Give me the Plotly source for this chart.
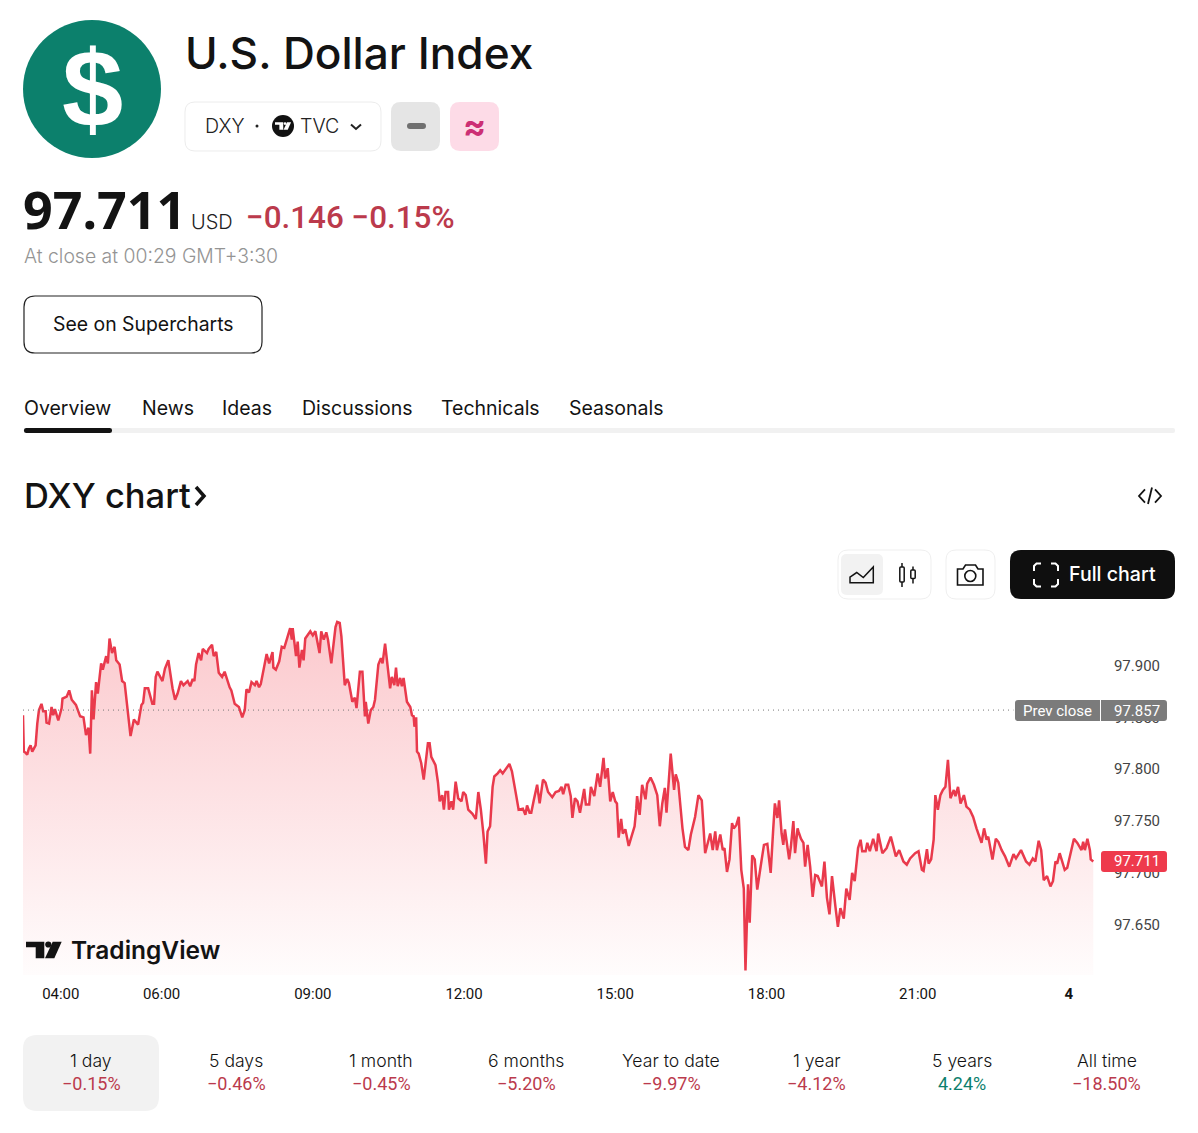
import pandas as pd
import plotly.graph_objects as go

W, H = 1198, 1133

# minutes after 03:15
minutes = [0,1,3,5,7,9,11,15,17,19,22,24,27,28,31,34,36,38,42,46,47,52,55,58,63,68,72,75,78,80,82,84,87,89,93,95,99,101,103,106,109,111,115,118,121,125,128,132,137,141,143,145,149,154,156,158,160,166,169,173,178,181,184,188,191,196,199,202,204,206,209,212,214,219,221,225,227,230,233,237,240,246,248,252,257,261,264,266,269,272,276,278,281,283,286,287,290,293,297,298,301,305,308,311,316,318,320,321,325,327,329,332,334,336,342,345,348,353,355,358,361,363,367,372,374,377,379,383,386,388,392,395,397,401,404,407,408,411,414,417,419,423,426,428,431,434,437,439,442,444,446,449,451,453,457,461,463,465,466,468,469,471,474,477,480,482,
    484,486,491,494,496,499,501,503,506,507,510,512,515,518,522,524,527,530,535,539,542,545,548,551,553,556,559,561,565,568,571,575,579,582,585,587,590,595,598,600,603,605,608,612,615,619,622,625,630,634,638,641,643,646,649,652,654,657,660,663,668,670,674,676,680,684,687,691,693,696,699,702,705,707,709,712,714,717,721,725,728,730,731,734,737,741,743,747,751,755,758,761,764,766,768,771,775,777,780,783,785,788,792,795,800,804,808,812,816,818,821,824,826,830,833,835,838,841,844,846,849,852,855,858,860,863,865,868,871,874,878,882,886,890,893,895,898,900,903,905,907,912,914,917,919,922,
    923,926,929,931,934,937,940,943,946,951,954,957,960,963,967,970,973,977,980,984,987,990,994,997,999,1003,1005,1008,1012,1016,1018,1023,1028,1033,1039,1043,1048,1052,1056,1062,1066,1070,1072,1076,1078,1081,1084,1086,1089,1092,1095,1098,1101,1104,1108,1110,1113,1116,1120,1123,1127,1131,1135,1141,1144,1147,1149,1154,1158,1161,1165,1169,1174,1179,1182,1188,1194,1198,1202,1205,1209,1212,1215,1219,1223,1226,1229,1231,1234,1240,1243,1248,1251,1255,1260,1262,1264,1267,1270,1271,1274]
prices = [97.852,97.817,97.816,97.814,97.820,97.823,97.817,97.823,97.844,97.857,97.863,97.856,97.856,97.845,97.844,97.860,97.852,97.858,97.847,97.859,97.868,97.870,97.876,97.867,97.862,97.851,97.850,97.833,97.840,97.815,97.876,97.848,97.884,97.873,97.902,97.896,97.909,97.902,97.926,97.912,97.918,97.905,97.901,97.885,97.883,97.854,97.832,97.848,97.843,97.862,97.864,97.878,97.878,97.863,97.863,97.889,97.894,97.885,97.897,97.905,97.878,97.867,97.873,97.885,97.881,97.885,97.880,97.887,97.885,97.901,97.912,97.905,97.916,97.912,97.916,97.920,97.909,97.913,97.893,97.889,97.894,97.879,97.876,97.863,97.860,97.850,97.857,97.877,97.874,97.884,97.881,97.885,97.879,97.882,97.894,97.897,97.911,97.902,97.913,97.898,97.896,97.904,97.918,97.917,97.931,97.936,97.925,97.936,97.909,97.923,97.898,97.915,97.905,97.926,97.933,97.929,97.933,97.912,97.933,97.925,97.932,97.925,97.902,97.937,97.942,97.941,97.928,97.881,97.887,97.883,97.865,97.869,97.859,97.894,97.894,97.851,97.865,97.844,97.857,97.860,97.867,97.901,97.907,97.902,97.921,97.901,97.878,97.889,97.881,97.898,97.880,97.888,97.880,97.888,97.865,97.860,97.852,97.851,97.841,97.850,97.817,97.815,97.806,97.790,97.815,97.825,
    97.825,97.812,97.804,97.787,97.769,97.775,97.761,97.778,97.778,97.761,97.769,97.761,97.788,97.772,97.769,97.778,97.775,97.761,97.757,97.752,97.778,97.761,97.738,97.709,97.740,97.745,97.783,97.793,97.796,97.799,97.796,97.801,97.805,97.798,97.786,97.775,97.761,97.762,97.756,97.765,97.758,97.758,97.770,97.785,97.767,97.790,97.787,97.778,97.773,97.778,97.779,97.783,97.776,97.785,97.785,97.774,97.753,97.772,97.769,97.758,97.781,97.766,97.766,97.783,97.774,97.796,97.783,97.811,97.791,97.801,97.769,97.778,97.769,97.767,97.734,97.752,97.738,97.742,97.726,97.737,97.745,97.762,97.774,97.756,97.785,97.771,97.786,97.792,97.785,97.775,97.745,97.767,97.782,97.758,97.785,97.815,97.780,97.795,97.787,97.761,97.743,97.725,97.722,97.737,97.754,97.775,97.770,97.719,97.732,97.738,97.722,97.740,97.722,97.737,97.722,97.724,97.701,97.713,97.748,97.743,97.746,97.754,97.703,97.685,97.606,97.689,97.652,97.717,97.713,97.684,97.706,97.727,97.728,97.700,97.742,97.767,97.753,97.770,97.738,97.727,97.742,97.713,97.725,97.750,97.719,97.743,
    97.740,97.733,97.729,97.706,97.727,97.706,97.677,97.698,97.697,97.687,97.711,97.676,97.660,97.697,97.668,97.648,97.666,97.656,97.685,97.674,97.700,97.692,97.724,97.732,97.721,97.721,97.729,97.721,97.733,97.721,97.738,97.719,97.724,97.735,97.716,97.722,97.711,97.708,97.714,97.719,97.721,97.703,97.702,97.723,97.709,97.713,97.732,97.775,97.761,97.775,97.780,97.783,97.809,97.772,97.780,97.774,97.783,97.767,97.775,97.764,97.761,97.754,97.743,97.729,97.743,97.732,97.735,97.713,97.733,97.730,97.722,97.716,97.706,97.718,97.714,97.722,97.711,97.708,97.714,97.711,97.731,97.722,97.693,97.697,97.687,97.692,97.711,97.709,97.719,97.703,97.705,97.724,97.733,97.729,97.722,97.730,97.722,97.733,97.722,97.713,97.711]

price_ticks = [97.65, 97.70, 97.75, 97.80, 97.85, 97.90]
time_ticks = ["2025-07-03 04:00", "2025-07-03 06:00", "2025-07-03 09:00", "2025-07-03 12:00",
              "2025-07-03 15:00", "2025-07-03 18:00", "2025-07-03 21:00", "2025-07-04 00:00"]
time_labels = ["04:00", "06:00", "09:00", "12:00", "15:00", "18:00", "21:00", "<b>4</b>"]

prev_close = 97.857
last_price = 97.711

tab_names = ["Overview", "News", "Ideas", "Discussions", "Technicals", "Seasonals"]
tab_left = [23, 141, 221, 301, 440, 568]

range_names = ["1 day", "5 days", "1 month", "6 months", "Year to date", "1 year", "5 years", "All time"]
range_changes = ["−0.15%", "−0.46%", "−0.45%", "−5.20%", "−9.97%", "−4.12%", "4.24%", "−18.50%"]

RED = "#bb3a4c"
GREEN = "#0d7f6d"
LINE = "#e93a4c"
FONT = "Inter"

shapes = []
notes = []


def px(x):
    return x / W


def py(y):
    return 1 - y / H


def text(x, y, s, size, color="#131313", anchor="left", weight=400, family=FONT):
    notes.append(dict(x=px(x), y=py(y), xref="paper", yref="paper", text=s, showarrow=False,
                      xanchor=anchor, yanchor="middle", borderpad=0,
                      font=dict(family=family, size=size, color=color, weight=weight)))


def path(points, fill=None, line=None, width=0, closed=True):
    d = "M" + " L".join(f"{px(a):.5f},{py(b):.5f}" for a, b in points) + (" Z" if closed else "")
    shapes.append(dict(type="path", path=d, xref="paper", yref="paper", fillcolor=fill,
                       line=dict(color=line or "rgba(0,0,0,0)", width=width)))


def rrect(x0, y0, x1, y1, r, fill=None, line=None, width=0):
    q = lambda a, b, c, d: f"Q{px(a):.5f},{py(b):.5f} {px(c):.5f},{py(d):.5f}"
    d = (f"M{px(x0 + r):.5f},{py(y0):.5f} L{px(x1 - r):.5f},{py(y0):.5f} " + q(x1, y0, x1, y0 + r)
         + f" L{px(x1):.5f},{py(y1 - r):.5f} " + q(x1, y1, x1 - r, y1)
         + f" L{px(x0 + r):.5f},{py(y1):.5f} " + q(x0, y1, x0, y1 - r)
         + f" L{px(x0):.5f},{py(y0 + r):.5f} " + q(x0, y0, x0 + r, y0) + " Z")
    shapes.append(dict(type="path", path=d, xref="paper", yref="paper", fillcolor=fill,
                       line=dict(color=line or "rgba(0,0,0,0)", width=width)))


def circle(cx, cy, r, fill=None, line=None, width=0):
    shapes.append(dict(type="circle", xref="paper", yref="paper", x0=px(cx - r), x1=px(cx + r),
                       y0=py(cy + r), y1=py(cy - r), fillcolor=fill,
                       line=dict(color=line or "rgba(0,0,0,0)", width=width)))


def tv_logo(x, y, k, color):
    path([(x, y), (x + 18.3 * k, y), (x + 18.3 * k, y + 16.6 * k), (x + 9.7 * k, y + 16.6 * k),
          (x + 9.7 * k, y + 5.6 * k), (x, y + 5.6 * k)], fill=color)
    circle(x + 22.3 * k, y + 2.8 * k, 3.1 * k, fill=color)
    path([(x + 26.7 * k, y), (x + 35.7 * k, y), (x + 28.3 * k, y + 16.6 * k), (x + 19 * k, y + 16.6 * k)], fill=color)


# header
circle(92, 89, 69, fill="#0c806c")
text(92, 89, "<b>$</b>", 110, "#ffffff", "center", family="Liberation Sans")
text(184, 53, "U.S. Dollar Index", 44.2, weight=500)

rrect(185, 102, 381, 151, 10, line="#ececec", width=1)
text(204, 126, "DXY", 19.6, "#222222", weight=300)
circle(257, 126, 1.5, fill="#222222")
circle(283, 126, 11, fill="#111111")
tv_logo(275, 122.3, 0.45, "#ffffff")
text(299, 126, "TVC", 19.6, "#222222", weight=300)
path([(351, 124.5), (356, 129), (361, 124.5)], line="#222222", width=2, closed=False)
rrect(391, 102, 440, 151, 10, fill="#e5e5e5")
rrect(407, 123, 426, 129, 3, fill="#707070")
rrect(450, 102, 499, 151, 10, fill="#fddbe7")
text(474.5, 125, "<b>≈</b>", 34, "#cc2f74", "center")

text(22, 208, "97.711", 52, "#131313", weight=700, family="Noto Sans")
text(190, 222, "USD", 20, "#222222", weight=300)
text(245, 218, "−0.146 −0.15%", 31.4, RED, weight=500, family="Roboto")
text(23, 256, "At close at 00:29 GMT+3:30", 19.4, "#949494", weight=300)

rrect(24, 296, 262, 353, 11, line="#222222", width=1.2)
text(143, 324, "See on Supercharts", 19.4, "#131313", "center", weight=400)

# tabs
for name, left in zip(tab_names, tab_left):
    text(left, 408, name, 19.5, "#131313", weight=400)
rrect(24, 428, 1175, 433, 2, fill="#f1f1f1")
rrect(24, 428, 112, 433, 2.5, fill="#131313")

text(23, 495, "DXY chart", 34.5, "#131313", weight=500)
path([(196, 487), (204, 496), (196, 505)], line="#131313", width=3.5, closed=False)

# embed and toolbar icons
path([(1145, 489.3), (1139, 496), (1145, 502.7)], line="#131313", width=1.8, closed=False)
path([(1148, 504), (1152, 487.5)], line="#131313", width=1.8, closed=False)
path([(1155, 489.3), (1161, 496), (1155, 502.7)], line="#131313", width=1.8, closed=False)

rrect(838, 550, 931, 599, 10, line="#efefef", width=1)
rrect(841, 554, 883, 595, 6, fill="#f2f2f2")
path([(850, 577), (856.7, 572.5), (863.3, 577.5), (873.3, 567), (873.3, 582.7), (850, 582.7)], line="#131313", width=1.5)
path([(902, 563), (902, 587)], line="#131313", width=1.5, closed=False)
rrect(899.8, 567, 904.2, 582, 1, fill="#ffffff", line="#131313", width=1.5)
path([(913, 566.5), (913, 583.5)], line="#131313", width=1.5, closed=False)
rrect(910.8, 570, 915.2, 578.5, 1, fill="#ffffff", line="#131313", width=1.5)

rrect(946, 550, 995, 599, 10, line="#efefef", width=1)
path([(957.5, 569), (963, 569), (965.5, 565), (975.5, 565), (978, 569), (983, 569), (983, 585), (957.5, 585)],
     line="#131313", width=1.6)
circle(970.3, 576, 5.5, line="#131313", width=1.6)

rrect(1010, 550, 1175, 599, 11, fill="#0f0f0f")
for corner in [[(1034, 571), (1034, 566), (1036.5, 563.5), (1041, 563.5)],
               [(1051, 563.5), (1055.5, 563.5), (1058, 566), (1058, 571)],
               [(1034, 579), (1034, 584), (1036.5, 586.5), (1041, 586.5)],
               [(1051, 586.5), (1055.5, 586.5), (1058, 584), (1058, 579)]]:
    path(corner, line="#ffffff", width=2, closed=False)
text(1068, 574, "Full chart", 19.6, "#ffffff", weight=500)

# price labels over the chart
rrect(1015, 700, 1167, 721, 3, fill="#7b7b7b")
path([(1100.5, 700), (1100.5, 721)], line="#ffffff", width=1, closed=False)
text(1057.5, 711, "Prev close", 15, "#ffffff", "center", family="Roboto")
text(1136.5, 711, f"{prev_close:.3f}", 15, "#ffffff", "center", family="Roboto")
rrect(1101, 851, 1167, 872, 3, fill="#ee3a4c")
text(1136.5, 861, f"{last_price:.3f}", 15, "#ffffff", "center", family="Roboto")

tv_logo(26, 941.7, 1, "#131313")
text(70, 950, "TradingView", 24.5, "#131313", weight=600)

# range row
rrect(23, 1035, 159, 1111, 14, fill="#f2f2f2")
for i, (name, change) in enumerate(zip(range_names, range_changes)):
    cx = 91 + 145.1 * i
    text(cx, 1060, name, 17.6, "#131313", "center", weight=300)
    text(cx, 1083, change, 18, GREEN if change[0] != "−" else RED, "center", family="Roboto")

start = pd.Timestamp("2025-07-03 03:15")
times = start + pd.to_timedelta(minutes, unit="min")

fig = go.Figure()
fig.add_trace(go.Scatter(x=times, y=prices, mode="lines", fill="tozeroy",
                         line=dict(color=LINE, width=2.5),
                         fillgradient=dict(type="vertical", start=97.6016, stop=97.9535,
                                           colorscale=[[0, "rgba(242,54,69,0.015)"], [1, "rgba(242,54,69,0.28)"]]),
                         showlegend=False))
fig.add_trace(go.Scatter(x=[times[0], start + pd.Timedelta(minutes=1179)],
                         y=[prev_close, prev_close], mode="lines",
                         line=dict(color="#777777", width=1, dash="1px 4px"), showlegend=False))

fig.update_layout(width=W, height=H, margin=dict(l=0, r=0, t=0, b=0), autosize=False,
                  paper_bgcolor="white", plot_bgcolor="white", shapes=shapes, annotations=notes,
                  font=dict(family="Roboto", size=15, color="#131313"))
fig.update_xaxes(domain=[px(23), px(1163)], range=[times[0], start + pd.Timedelta(minutes=1357)],
                 tickvals=pd.to_datetime(time_ticks), ticktext=time_labels, showgrid=False, zeroline=False,
                 ticks="outside", ticklen=5, tickcolor="rgba(0,0,0,0)", showline=False,
                 tickfont=dict(family="Roboto", size=15))
fig.update_yaxes(domain=[py(975), py(610)], range=[97.6016, 97.9535], side="right",
                 tickvals=price_ticks, tickformat=".3f", ticklabelposition="inside", showgrid=False,
                 zeroline=False, ticks="", showline=False, tickfont=dict(family="Roboto", size=15))

fig.write_html("out.html", config=dict(displayModeBar=False),
               post_script="document.body.style.margin='0';document.body.style.overflow='hidden';")
